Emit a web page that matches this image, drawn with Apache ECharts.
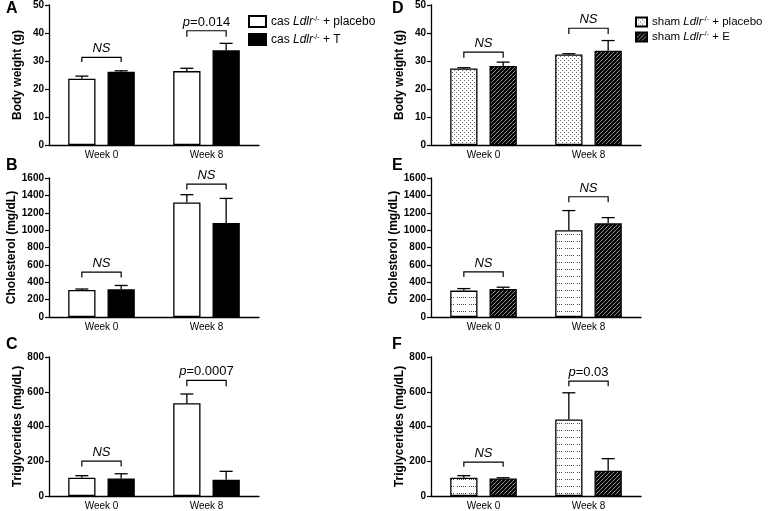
<!DOCTYPE html>
<html><head><meta charset="utf-8">
<script src="https://cdn.jsdelivr.net/npm/echarts/dist/echarts.min.js"></script>
<style>html,body{margin:0;padding:0;background:#fff}#c{width:768px;height:511px}</style>
</head><body><div id="c"></div>
<script>
// ---------- DATA ----------
var weeks = ['Week 0', 'Week 8'];
var panelLetters = ['A', 'B', 'C', 'D', 'E', 'F'];
var yNames = ['Body weight (g)', 'Cholesterol (mg/dL)', 'Triglycerides (mg/dL)'];
var yMax = [50, 1600, 800];
var yStep = [10, 200, 200];

// castrated mice (A-C)
var bwCasPlacebo = [23.7, 26.4], bwCasPlaceboSem = [0.9, 1.0];
var bwCasT = [26.2, 33.8], bwCasTSem = [0.3, 2.5];
var cholCasPlacebo = [312, 1318], cholCasPlaceboSem = [10, 90];
var cholCasT = [318, 1083], cholCasTSem = [45, 282];
var tgCasPlacebo = [105, 534], tgCasPlaceboSem = [12, 53];
var tgCasT = [101, 94], tgCasTSem = [27, 48];

// sham mice (D-F)
var bwShamPlacebo = [27.3, 32.3], bwShamPlaceboSem = [0.3, 0.3];
var bwShamE = [28.2, 33.7], bwShamESem = [1.4, 3.6];
var cholShamPlacebo = [304, 998], cholShamPlaceboSem = [23, 227];
var cholShamE = [323, 1078], cholShamESem = [20, 66];
var tgShamPlacebo = [105, 441], tgShamPlaceboSem = [12, 153];
var tgShamE = [101, 145], tgShamESem = [4, 70];

// significance brackets: [bracket level, end level] per week, and label
var brA = [[31.3, 29.6], [40.8, 38.7]], brALabels = ['NS', 'p=0.014'];
var brB = [[516, 455], [1530, 1468]], brBLabels = ['NS', 'NS'];
var brC = [[201, 170], [666, 632]], brCLabels = ['NS', 'p=0.0007'];
var brD = [[33.2, 31.2], [41.7, 39.6]], brDLabels = ['NS', 'NS'];
var brE = [[520, 459], [1384, 1322]], brELabels = ['NS', 'NS'];
var brF = [[195, 168], [661, 632]], brFLabels = ['NS', 'p=0.03'];

// ---------- PATTERNS ----------
function makeCanvas(w, h, draw) {
  var c = document.createElement('canvas'); c.width = w; c.height = h;
  var g = c.getContext('2d'); g.fillStyle = '#fff'; g.fillRect(0, 0, w, h); draw(g); return c;
}
var stippleDense = makeCanvas(4, 4, function (g) {
  g.fillStyle = '#666'; g.fillRect(0, 0, 1, 1); g.fillRect(2, 2, 1, 1);
});
var stippleSparse = makeCanvas(12, 7, function (g) {
  g.fillStyle = '#444';
  for (var x = 1; x < 10; x += 2) g.fillRect(x, 3, 1, 1);
});
var hatch = makeCanvas(4, 4, function (g) {
  g.strokeStyle = '#000'; g.lineWidth = 2.3; g.beginPath();
  g.moveTo(-1, 5); g.lineTo(5, -1);
  g.moveTo(-1, 1); g.lineTo(1, -1);
  g.moveTo(3, 5); g.lineTo(5, 3);
  g.stroke();
});
function pat(c) { return { image: c, repeat: 'repeat' }; }

// ---------- LAYOUT ----------
var grids = [
  { left: 49, top: 5, width: 210, height: 140 },
  { left: 49, top: 178, width: 210, height: 139 },
  { left: 49, top: 357, width: 210, height: 139 },
  { left: 431, top: 5, width: 210, height: 140 },
  { left: 431, top: 178, width: 210, height: 139 },
  { left: 431, top: 357, width: 210, height: 139 }
];
var letterPos = [[6, 1], [6, 158], [6, 337], [392, 1], [392, 158], [392, 337]];

var panels = [
  { a: bwCasPlacebo, as: bwCasPlaceboSem, b: bwCasT, bs: bwCasTSem, br: brA, bl: brALabels, na: 'casP', nb: 'casT', ca: '#fff', cb: '#000' },
  { a: cholCasPlacebo, as: cholCasPlaceboSem, b: cholCasT, bs: cholCasTSem, br: brB, bl: brBLabels, na: 'casP', nb: 'casT', ca: '#fff', cb: '#000' },
  { a: tgCasPlacebo, as: tgCasPlaceboSem, b: tgCasT, bs: tgCasTSem, br: brC, bl: brCLabels, na: 'casP', nb: 'casT', ca: '#fff', cb: '#000' },
  { a: bwShamPlacebo, as: bwShamPlaceboSem, b: bwShamE, bs: bwShamESem, br: brD, bl: brDLabels, na: 'shamP', nb: 'shamE', ca: pat(stippleDense), cb: pat(hatch) },
  { a: cholShamPlacebo, as: cholShamPlaceboSem, b: cholShamE, bs: cholShamESem, br: brE, bl: brELabels, na: 'shamP', nb: 'shamE', ca: pat(stippleSparse), cb: pat(hatch) },
  { a: tgShamPlacebo, as: tgShamPlaceboSem, b: tgShamE, bs: tgShamESem, br: brF, bl: brFLabels, na: 'shamP', nb: 'shamE', ca: pat(stippleSparse), cb: pat(hatch) }
];

var BW = 0.26, GAP = 0.44;
var OFF = (BW + BW * GAP) / 2;

function errRender(sign) {
  return function (params, api) {
    var i = api.value(0), m = api.value(1), s = api.value(2);
    var p0 = api.coord([i, m]), p1 = api.coord([i, m + s]);
    var band = api.size([1, 0])[0];
    var cx = p0[0] + sign * band * OFF, hw = band * 0.062;
    var st = { stroke: '#000', lineWidth: 1.3 };
    return { type: 'group', children: [
      { type: 'line', shape: { x1: cx, y1: p0[1], x2: cx, y2: p1[1] }, style: st },
      { type: 'line', shape: { x1: cx - hw, y1: p1[1], x2: cx + hw, y2: p1[1] }, style: st }
    ] };
  };
}
function bracketRender(labels) {
  return function (params, api) {
    var i = api.value(0), yl = api.value(1), ye = api.value(2);
    var pl = api.coord([i, yl]), pe = api.coord([i, ye]);
    var band = api.size([1, 0])[0];
    var x1 = pl[0] - band * OFF, x2 = pl[0] + band * OFF;
    var lab = labels[params.dataIndex];
    var txt = lab.indexOf('p=') === 0 ? '{i|p}{n|' + lab.slice(1) + '}' : '{i|' + lab + '}';
    return { type: 'group', children: [
      { type: 'polyline', shape: { points: [[x1, pe[1]], [x1, pl[1]], [x2, pl[1]], [x2, pe[1]]] }, style: { stroke: '#000', lineWidth: 1.2, fill: null } },
      { type: 'text', x: pl[0], y: pl[1] - 2, style: {
        text: txt, align: 'center', verticalAlign: 'bottom',
        rich: {
          i: { fontFamily: 'Liberation Sans, Arial', fontSize: 13, fontStyle: 'italic', fill: '#000' },
          n: { fontFamily: 'Liberation Sans, Arial', fontSize: 13, fill: '#000' }
        } } }
    ] };
  };
}

var xAxes = [], yAxes = [], series = [], graphics = [];
panels.forEach(function (p, k) {
  var row = k % 3;
  xAxes.push({
    type: 'category', gridIndex: k, data: weeks,
    axisLine: { lineStyle: { color: '#000', width: 1.3 } },
    axisTick: { show: false },
    axisLabel: { color: '#000', fontSize: 10, fontFamily: 'Liberation Sans, Arial', margin: 5 }
  });
  yAxes.push({
    type: 'value', gridIndex: k, min: 0, max: yMax[row], interval: yStep[row],
    name: yNames[row], nameLocation: 'middle', nameGap: 25, nameRotate: 90,
    nameTextStyle: { color: '#000', fontSize: 12, fontWeight: 'bold', fontFamily: 'Liberation Sans, Arial' },
    axisLine: { show: true, lineStyle: { color: '#000', width: 1.3 } },
    axisTick: { show: true, length: 4, lineStyle: { color: '#000', width: 1.2 } },
    axisLabel: { color: '#000', fontSize: 10, fontWeight: 'bold', fontFamily: 'Liberation Sans, Arial', margin: 5,
      formatter: function (v) { return String(v); } },
    splitLine: { show: false }
  });
  var bs = { borderColor: '#000', borderWidth: 1.3 };
  series.push({ type: 'bar', name: p.na, xAxisIndex: k, yAxisIndex: k, data: p.a, barWidth: (BW * 100) + '%', barGap: (GAP * 100) + '%',
    itemStyle: Object.assign({ color: p.ca }, bs), emphasis: { disabled: true } });
  series.push({ type: 'bar', name: p.nb, xAxisIndex: k, yAxisIndex: k, data: p.b, barWidth: (BW * 100) + '%', barGap: (GAP * 100) + '%',
    itemStyle: Object.assign({ color: p.cb }, bs), emphasis: { disabled: true } });
  series.push({ type: 'custom', xAxisIndex: k, yAxisIndex: k, renderItem: errRender(-1), z: 5,
    data: p.a.map(function (v, i) { return [i, v, p.as[i]]; }) });
  series.push({ type: 'custom', xAxisIndex: k, yAxisIndex: k, renderItem: errRender(1), z: 5,
    data: p.b.map(function (v, i) { return [i, v, p.bs[i]]; }) });
  series.push({ type: 'custom', xAxisIndex: k, yAxisIndex: k, renderItem: bracketRender(p.bl), z: 5, clip: false,
    data: p.br.map(function (v, i) { return [i, v[0], v[1]]; }) });
  graphics.push({ type: 'text', left: letterPos[k][0], top: letterPos[k][1],
    style: { text: panelLetters[k], fontSize: 16, fontWeight: 'bold', fontFamily: 'Liberation Sans, Arial', fill: '#000' } });
});

var legendText = {
  casP: '{n|cas }{i|Ldlr}{s|-/-}{n| + placebo}',
  casT: '{n|cas }{i|Ldlr}{s|-/-}{n| + T}',
  shamP: '{n|sham }{i|Ldlr}{s|-/-}{n| + placebo}',
  shamE: '{n|sham }{i|Ldlr}{s|-/-}{n| + E}'
};
function legendRich(fs) {
  return {
    n: { fontSize: fs, fontFamily: 'Liberation Sans, Arial', color: '#000' },
    i: { fontSize: fs, fontFamily: 'Liberation Sans, Arial', fontStyle: 'italic', color: '#000' },
    s: { fontSize: 7, fontFamily: 'Liberation Sans, Arial', color: '#000', verticalAlign: 'top' }
  };
}

var chart = echarts.init(document.getElementById('c'), null, { renderer: 'canvas' });
chart.setOption({
  animation: false,
  backgroundColor: '#fff',
  grid: grids,
  xAxis: xAxes,
  yAxis: yAxes,
  series: series,
  graphic: graphics,
  legend: [
    { data: ['casP', 'casT'], orient: 'vertical', left: 243, top: 10, itemWidth: 17, itemHeight: 11, itemGap: 5, icon: 'rect',
      selectedMode: false, formatter: function (n) { return legendText[n]; }, textStyle: { rich: legendRich(12) } },
    { data: ['shamP', 'shamE'], orient: 'vertical', left: 630, top: 11, itemWidth: 11, itemHeight: 9, itemGap: 3, icon: 'rect',
      selectedMode: false, formatter: function (n) { return legendText[n]; }, textStyle: { rich: legendRich(11.5) } }
  ]
});
</script></body></html>
